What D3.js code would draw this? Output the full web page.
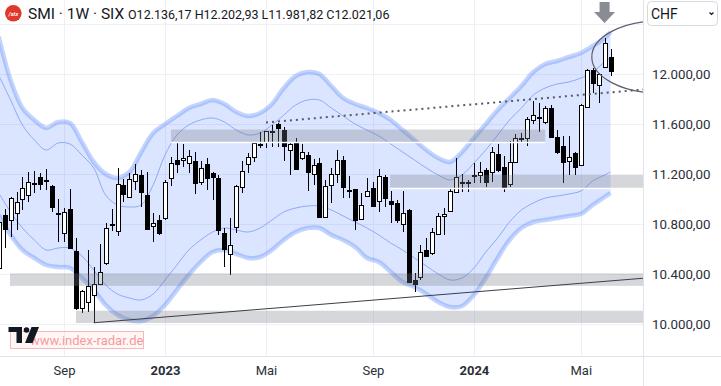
<!DOCTYPE html>
<html>
<head>
<meta charset="utf-8">
<script src="https://cdn.jsdelivr.net/npm/d3@7"></script>
<style>
  body { margin: 0; background: #fff; }
  svg { display: block; font-family: Roboto, "Liberation Sans", sans-serif; }
</style>
</head>
<body>
<div id="chart"></div>
<script>
// weekly candles, index 0 = week of 20 Jun 2022
var opens = [10446,10872,10832,10885,10997,11032,11120,11173,11150,11104,10890,10730,10917,10584,10130,10173,10232,10318,10485,10795,
  10744,11112,11014,11144,11192,11032,10786,10832,10846,11166,11312,11312,11285,11304,11133,11277,11205,11170,10730,10560,
  10778,11098,11277,11333,11435,11458,11540,11598,11552,11392,11450,11330,11352,11198,11285,10858,11109,11200,11312,11075,
  11077,10837,11024,11085,10984,11173,10984,10965,10797,10912,10352,10373,10592,10565,10720,10861,10906,11058,11135,11128,
  11188,11192,11232,11218,11357,11253,11120,11298,11482,11485,11632,11650,11618,11725,11493,11424,11304,11365,11272,11738,
  12032,11912,12058,12136.17];
var highs = [10850,10920,11018,11058,11178,11213,11226,11205,11237,11112,10998,10925,11077,10685,10272,10592,10458,10640,10810,10917,
  11245,11157,11205,11280,11232,11213,10890,10872,11152,11338,11445,11437,11392,11378,11304,11330,11218,11192,10765,10845,
  11112,11304,11365,11453,11538,11544,11592,11605,11578,11445,11485,11437,11378,11318,11325,11152,11245,11392,11344,11184,
  11080,11045,11165,11138,11237,11192,11064,10992,11066,10917,10405,10632,10685,10765,10885,10925,11077,11325,11200,11152,
  11285,11298,11245,11413,11440,11344,11466,11520,11525,11653,11786,11765,11744,11749,11552,11504,11504,11378,11760,12037,
  12045,12005,12285,12202.93];
var lows = [10410,10608,10698,10752,10912,10978,11045,11072,11072,10898,10658,10658,10600,10112,10088,10098,10010,10312,10472,10746,
  10704,10978,11005,11072,10938,10752,10658,10712,10832,11106,11205,11258,11205,11037,11112,11072,10992,10712,10458,10392,
  10725,11045,11205,11293,11405,11410,11418,11418,11304,11192,11232,11312,11064,11112,10845,10850,10970,11130,11005,11005,
  10752,10830,11015,10938,10898,10938,10810,10805,10738,10338,10254,10352,10538,10552,10712,10712,10898,11050,11058,11058,
  11125,11125,11098,11138,11218,11058,11098,11293,11445,11424,11600,11538,11600,11485,11360,11125,11192,11192,11272,11725,
  11845,11770,12045,11981.82];
var closes = [10818,10760,11005,10978,11085,11138,11125,11117,11155,10934,10885,10896,10605,10130,10264,10304,10320,10413,10765,10800,
  11120,11037,11160,11197,11058,10760,10805,10725,11134,11286,11280,11330,11344,11125,11245,11170,11178,10752,10600,10632,
  11104,11224,11333,11445,11440,11544,11548,11566,11426,11437,11240,11378,11213,11272,10858,11104,11200,11312,11094,11070,
  10832,10952,11066,10944,11184,11005,10957,10832,10890,10338,10317,10573,10546,10733,10866,10877,11064,11178,11140,11133,
  11195,11218,11138,11378,11232,11098,11298,11485,11488,11637,11672,11656,11725,11493,11373,11293,11338,11258,11752,12032,
  11925,11997,12245,12021.06];

// envelope bands read at these week indices
var bandIdx = [0,2,4,6,8,10,12,14,16,18,20,22,24,26,28,30,32,34,36,38,40,42,44,46,48,50,52,54,56,58,60,62,64,66,68,70,72,74,76,78,80,82,84,86,88,90,92,94,96,98,100,102,103];
var upperOuter = [12300,11952,11728,11632,11568,11616,11608,11456,11296,11200,11168,11216,11376,11528,11600,11664,11728,11760,11792,11760,11696,11664,11688,11760,11888,11984,12016,12000,11904,11808,11760,11728,11688,11632,11552,11472,11392,11328,11296,11376,11488,11600,11712,11808,11904,12016,12080,12104,12136,12168,12224,12288,12336];
var upperInner = [11990,11792,11592,11472,11392,11448,11440,11352,11248,11032,10952,10936,10952,11112,11352,11512,11592,11632,11648,11616,11552,11512,11528,11592,11672,11752,11792,11792,11728,11664,11600,11552,11504,11440,11376,11312,11248,11192,11152,11192,11288,11392,11512,11632,11728,11832,11888,11920,11936,11968,12016,12096,12128];
var lowerInner = [11048,10896,10768,10672,10592,10608,10608,10544,10432,10312,10240,10208,10192,10240,10352,10472,10592,10672,10736,10768,10752,10736,10768,10832,10896,10928,10944,10944,10912,10864,10816,10768,10712,10648,10592,10528,10464,10400,10352,10368,10448,10576,10688,10816,10912,10968,11008,11024,11040,11064,11144,11192,11216];
var lowerOuter = [10872,10712,10592,10528,10472,10456,10448,10368,10272,10152,10072,10032,10024,10064,10152,10272,10392,10496,10576,10592,10560,10528,10536,10592,10672,10736,10768,10768,10712,10672,10616,10528,10496,10416,10336,10296,10240,10176,10136,10144,10232,10368,10528,10672,10768,10816,10832,10848,10864,10880,10952,11016,11048];

// horizontal zones (value range, start / end week index; null = to the right edge)
var zoneLow = [11456, 11088, 10305, 10008];
var zoneHigh = [11556, 11192, 10405, 10106];
var zoneStart = [29.0, 65.9, 1.9, 13.0];
var zoneEnd = [92.0, null, null, null];

// drawn trend lines [index, value]
var dottedLine = [[45, 11612], [108.5, 11876]];
var supportLine = [[16, 10010], [108.5, 10366]];
var circleMark = {idx: 111.3, value: 12136, halfWeeks: 11.45, halfValue: 290};
var arrowIdx = 102;

var yTicks = [10000, 10400, 10800, 11200, 11600, 12000, 12400];
var xTickIdx = [11, 28, 45, 63, 80, 98];
var xTickLabels = ["Sep", "2023", "Mai", "Sep", "2024", "Mai"];
var boldLabels = ["2023", "2024"];

var W = 721, H = 386, plotW = 643, plotH = 356;

var svg = d3.select("#chart").append("svg").attr("width", W).attr("height", H);

var x = d3.scaleLinear().domain([0, 103]).range([-1.3, -1.3 + 5.94 * 103]);
var y = d3.scaleLinear().domain([10000, 12400]).range([324, 24]);

svg.append("defs").append("clipPath").attr("id", "plot")
  .append("rect").attr("width", plotW).attr("height", plotH);

var plot = svg.append("g").attr("clip-path", "url(#plot)");

// grid
plot.selectAll("line.hg").data(yTicks).enter().append("line")
  .attr("x1", 0).attr("x2", plotW)
  .attr("y1", function(d) { return Math.round(y(d)) + 0.5; })
  .attr("y2", function(d) { return Math.round(y(d)) + 0.5; })
  .attr("stroke", "#eef0f4");
plot.selectAll("line.vg").data(xTickIdx).enter().append("line")
  .attr("y1", 0).attr("y2", plotH)
  .attr("x1", function(d) { return Math.round(x(d)) + 0.5; })
  .attr("x2", function(d) { return Math.round(x(d)) + 0.5; })
  .attr("stroke", "#eef0f4");

// bands
var bandPts = bandIdx.map(function(d, i) {
  return {i: d, uo: upperOuter[i], ui: upperInner[i], li: lowerInner[i], lo: lowerOuter[i]};
});
var curve = d3.curveCatmullRom;
plot.append("path").datum(bandPts)
  .attr("d", d3.area().curve(curve)
    .x(function(d) { return x(d.i); })
    .y0(function(d) { return y(d.lo); })
    .y1(function(d) { return y(d.uo); }))
  .attr("fill", "rgba(41,98,255,0.17)");
["uo", "lo"].forEach(function(k) {
  plot.append("path").datum(bandPts)
    .attr("d", d3.line().curve(curve).x(function(d) { return x(d.i); }).y(function(d) { return y(d[k]); }))
    .attr("fill", "none").attr("stroke", "rgba(90,135,250,0.36)").attr("stroke-width", 4.5);
});
["ui", "li"].forEach(function(k) {
  plot.append("path").datum(bandPts)
    .attr("d", d3.line().curve(curve).x(function(d) { return x(d.i); }).y(function(d) { return y(d[k]); }))
    .attr("fill", "none").attr("stroke", "#8eaaf6").attr("stroke-width", 1);
});

// candles
var candles = opens.map(function(o, i) {
  return {i: i, o: o, h: highs[i], l: lows[i], c: closes[i]};
});
var cg = plot.selectAll("g.candle").data(candles).enter().append("g");
cg.append("line")
  .attr("x1", function(d) { return Math.round(x(d.i)) + 0.5; })
  .attr("x2", function(d) { return Math.round(x(d.i)) + 0.5; })
  .attr("y1", function(d) { return Math.round(y(d.h)); })
  .attr("y2", function(d) { return Math.round(y(d.l)); })
  .attr("stroke", "#000").attr("stroke-width", 1);
cg.append("rect")
  .attr("x", function(d) { return Math.round(x(d.i)) - 1.5; })
  .attr("width", 4)
  .attr("y", function(d) { return Math.round(y(Math.max(d.o, d.c))) + 0.5; })
  .attr("height", function(d) { return Math.max(1, Math.round(y(Math.min(d.o, d.c))) - Math.round(y(Math.max(d.o, d.c)))); })
  .attr("fill", function(d) { return d.c >= d.o ? "#fff" : "#000"; })
  .attr("stroke", "#000").attr("stroke-width", 1);

// zones
zoneLow.forEach(function(lo, k) {
  var x0 = x(zoneStart[k]);
  var x1 = zoneEnd[k] === null ? plotW : x(zoneEnd[k]);
  plot.append("rect")
    .attr("x", x0).attr("width", x1 - x0)
    .attr("y", y(zoneHigh[k])).attr("height", y(lo) - y(zoneHigh[k]))
    .attr("fill", "rgba(120,123,134,0.3)");
  if (k < 2) {
    plot.append("line").attr("x1", x0).attr("x2", x1)
      .attr("y1", Math.round(y(lo)) + 0.5).attr("y2", Math.round(y(lo)) + 0.5)
      .attr("stroke", "#fff").attr("stroke-width", 1.5);
  }
});

// trend lines
var tl = d3.line().x(function(d) { return x(d[0]); }).y(function(d) { return y(d[1]); });
plot.append("path").datum(dottedLine).attr("d", tl)
  .attr("fill", "none").attr("stroke", "#555a66").attr("stroke-width", 2)
  .attr("stroke-dasharray", "2 4");
plot.append("path").datum(supportLine).attr("d", tl)
  .attr("fill", "none").attr("stroke", "#3c3f48").attr("stroke-width", 1);
plot.append("ellipse")
  .attr("cx", x(circleMark.idx)).attr("cy", y(circleMark.value))
  .attr("rx", x(circleMark.halfWeeks) - x(0))
  .attr("ry", y(12000 - circleMark.halfValue) - y(12000))
  .attr("fill", "none").attr("stroke", "#5d606b").attr("stroke-width", 1.2);

// arrow
var ax = x(arrowIdx);
plot.append("path")
  .attr("d", "M" + (ax - 5) + ",2 H" + (ax + 5) + " V12 H" + (ax + 10.5) + " L" + ax + ",23 L" + (ax - 10.5) + ",12 H" + (ax - 5) + " Z")
  .attr("fill", "#8a8c93");

// axes
var fmt = d3.formatLocale({decimal: ",", thousands: ".", grouping: [3], currency: ["", ""]}).format(",.2f");
var yAxis = svg.append("g").attr("transform", "translate(" + plotW + ",0)")
  .call(d3.axisRight(y).tickValues(yTicks.slice(0, 6)).tickSize(0).tickPadding(9).tickFormat(fmt));
yAxis.select(".domain").remove();
yAxis.selectAll("text").attr("font-size", 13.3).attr("fill", "#2a2e39")
  .attr("font-family", "Roboto, sans-serif").attr("dy", "0.36em");

var xAxis = svg.append("g").attr("transform", "translate(0," + plotH + ")")
  .call(d3.axisBottom(x).tickValues(xTickIdx).tickSize(0).tickPadding(10)
    .tickFormat(function(d, i) { return xTickLabels[i]; }));
xAxis.select(".domain").remove();
xAxis.selectAll("text").attr("font-size", 13).attr("fill", "#2a2e39")
  .attr("font-family", "Roboto, sans-serif")
  .attr("font-weight", function(d, i) { return boldLabels.indexOf(xTickLabels[i]) >= 0 ? "bold" : "normal"; });

svg.append("line").attr("x1", plotW + 0.5).attr("x2", plotW + 0.5).attr("y1", 0).attr("y2", H)
  .attr("stroke", "#e0e3eb");
svg.append("line").attr("x1", 0).attr("x2", W).attr("y1", plotH + 0.5).attr("y2", plotH + 0.5)
  .attr("stroke", "#e0e3eb");

// currency box
svg.append("rect").attr("x", 647.5).attr("y", 1.5).attr("width", 70).attr("height", 24).attr("rx", 4)
  .attr("fill", "#fff").attr("stroke", "#d6d9e0");
svg.append("text").attr("x", 651).attr("y", 19).text("CHF")
  .attr("font-size", 14).attr("fill", "#131722");
svg.append("path").attr("d", "M709.5,12.5 L711.5,14.5 L713.5,12.5")
  .attr("fill", "none").attr("stroke", "#131722").attr("stroke-width", 1.2);

// header
svg.append("circle").attr("cx", 13.3).attr("cy", 13.3).attr("r", 8.3).attr("fill", "#e0392c");
svg.append("text").attr("x", 13.3).attr("y", 15.5).attr("text-anchor", "middle")
  .attr("font-size", 6).attr("font-style", "italic").attr("font-weight", "bold")
  .attr("fill", "#fff").text("/six");
svg.append("text").attr("x", 28).attr("y", 19).text("SMI \u00b7 1W \u00b7 SIX")
  .attr("font-size", 15.5).attr("fill", "#131722");
svg.append("text").attr("x", 128).attr("y", 18.5)
  .text("O12.136,17  H12.202,93  L11.981,82  C12.021,06")
  .attr("font-size", 12.5).attr("fill", "#131722");

// watermark + logo
svg.append("rect").attr("x", 10.5).attr("y", 331.5).attr("width", 133).attr("height", 17)
  .attr("fill", "rgba(255,225,225,0.35)").attr("stroke", "rgba(240,130,130,0.55)");
svg.append("text").attr("x", 30).attr("y", 345).text("www.index-radar.de")
  .attr("font-size", 13).attr("fill", "rgba(235,90,90,0.6)");
var logo = svg.append("g").attr("fill", "#131722");
logo.append("path").attr("d", "M8.5,327 H22 V343 H16.5 V332 H8.5 Z");
logo.append("circle").attr("cx", 26.5).attr("cy", 330).attr("r", 2.8);
logo.append("path").attr("d", "M31.5,327 H39 L32.5,343 H25 Z");
</script>
</body>
</html>
